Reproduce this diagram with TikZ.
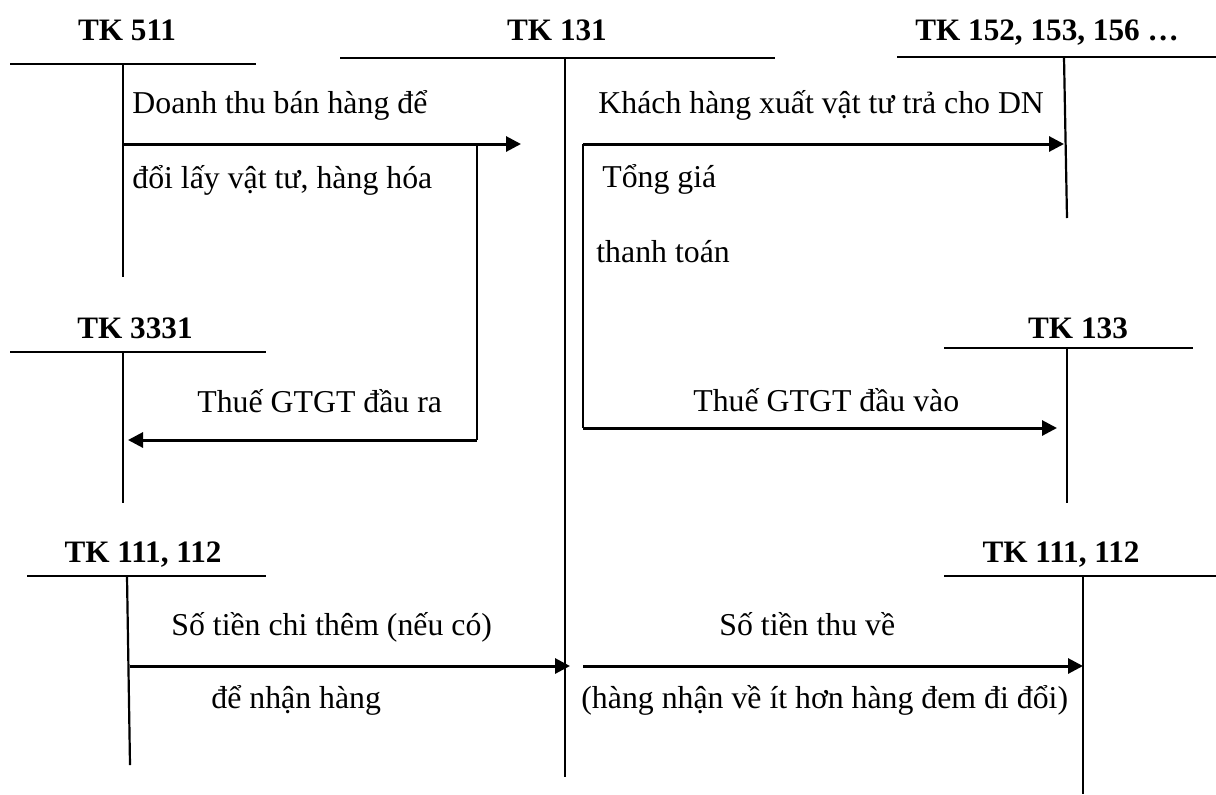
\documentclass[tikz,border=0pt]{standalone}
\usepackage{fontspec}
\setmainfont{Liberation Serif}
\usetikzlibrary{arrows.meta}
\begin{document}
\begin{tikzpicture}[x=0.5pt,y=-0.5pt,
  tline/.style={line width=1.1pt},
  link/.style={line width=1.2pt},
  flow/.style={line width=1.5pt,-{Triangle[length=7.5pt,width=7.5pt]}},
  head/.style={font=\fontsize{15.6pt}{18pt}\selectfont\bfseries,inner sep=0pt,anchor=base},
  note/.style={font=\fontsize{15.9pt}{18pt}\selectfont,inner sep=0pt,anchor=base west}]
\useasboundingbox (0,0) rectangle (1216,794);

% ---- T-account headings ----
\node[head] (h511)  at (127,40)  {TK 511};
\node[head] (h131)  at (557,40)  {TK 131};
\node[head] (h152)  at (1047,40) {TK 152, 153, 156 …};
\node[head] (h3331) at (135,338) {TK 3331};
\node[head] (h133)  at (1078,338) {TK 133};
\node[head] (h111a) at (143,562) {TK 111, 112};
\node[head] (h111b) at (1061,562) {TK 111, 112};

% ---- T-account skeletons ----
% TK 511
\coordinate (a511L) at (10,64);   \coordinate (a511R) at (256,64);
\coordinate (a511T) at (123,64);  \coordinate (a511B) at (123,277);
% TK 131
\coordinate (a131L) at (340,58);  \coordinate (a131R) at (775,58);
\coordinate (a131T) at (565,58);  \coordinate (a131B) at (565,777);
% TK 152, 153, 156
\coordinate (a152L) at (897,57);  \coordinate (a152R) at (1216,57);
\coordinate (a152T) at (1064,57); \coordinate (a152B) at (1067,218);
% TK 3331
\coordinate (a3331L) at (10,352); \coordinate (a3331R) at (266,352);
\coordinate (a3331T) at (123,352);\coordinate (a3331B) at (123,503);
% TK 133
\coordinate (a133L) at (944,348); \coordinate (a133R) at (1193,348);
\coordinate (a133T) at (1067,348);\coordinate (a133B) at (1067,503);
% TK 111, 112 (left)
\coordinate (a111aL) at (27,576); \coordinate (a111aR) at (266,576);
\coordinate (a111aT) at (127,576);\coordinate (a111aB) at (130,765);
% TK 111, 112 (right)
\coordinate (a111bL) at (944,576); \coordinate (a111bR) at (1216,576);
\coordinate (a111bT) at (1083,576);\coordinate (a111bB) at (1083,794);

\foreach \a in {511,131,152,3331,133,111a,111b}{
  \draw[tline] (a\a L) -- (a\a R);
  \draw[tline] (a\a T) -- (a\a B);
}

% ---- flow coordinates ----
\coordinate (s1)  at (123,144);  \coordinate (e1)  at (521,144);
\coordinate (k1)  at (477,144);  \coordinate (k2)  at (477,440);
\coordinate (e2)  at (128,440);
\coordinate (s3)  at (583,144);  \coordinate (e3)  at (1064,144);
\coordinate (k3)  at (583,428);  \coordinate (e4)  at (1057,428);
\coordinate (s5)  at (130,666);  \coordinate (e5)  at (570,666);
\coordinate (s6)  at (583,666);  \coordinate (e6)  at (1083,666);

% ---- flows ----
\draw[flow] (s1) -- (e1);
\draw[link] (k1) -- (k2);
\draw[flow] (k2) -- (e2);
\draw[flow] (s3) -- (e3);
\draw[link] (s3) -- (k3);
\draw[flow] (k3) -- (e4);
\draw[flow] (s5) -- (e5);
\draw[flow] (s6) -- (e6);

% ---- flow labels ----
\node[note] (l1a) at (132,113) {Doanh thu bán hàng để};
\node[note] (l1b) at (132,188) {đổi lấy vật tư, hàng hóa};
\node[note] (l2)  at (197,412) {Thuế GTGT đầu ra};
\node[note] (l3a) at (598,113) {Khách hàng xuất vật tư trả cho DN};
\node[note] (l3b) at (602,187) {Tổng giá};
\node[note] (l3c) at (596,262) {thanh toán};
\node[note] (l4)  at (693,411) {Thuế GTGT đầu vào};
\node[note] (l5a) at (171,635) {Số tiền chi thêm (nếu có)};
\node[note] (l5b) at (211,708) {để nhận hàng};
\node[note] (l6a) at (719,635) {Số tiền thu về};
\node[note] (l6b) at (581,708) {(hàng nhận về ít hơn hàng đem đi đổi)};
\end{tikzpicture}
\end{document}
